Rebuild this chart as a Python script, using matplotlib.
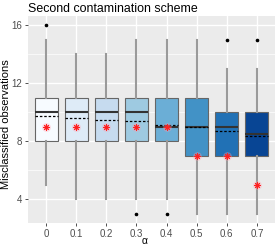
import matplotlib.pyplot as plt
import numpy as np

plt.rcParams['font.family'] = ['Liberation Sans', 'DejaVu Sans']

# values
alphas = ["0", "0.1", "0.2", "0.3", "0.4", "0.5", "0.6", "0.7"]
whislo = [5, 4, 4, 4, 4, 3, 3, 3]
q1 = [8, 8, 8, 8, 8, 7, 7, 7]
medians = [10, 10, 10, 10, 9, 9, 9, 8.5]
q3 = [11, 11, 11, 11, 11, 11, 10, 10]
whishi = [15, 14, 14, 15, 15, 15, 13, 13]
means = [9.75, 9.6, 9.45, 9.4, 9.15, 9.0, 8.7, 8.35]
outliers = [[16], [], [], [3], [3], [], [15], [15]]
reference = [9, 9, 9, 9, 9, 7, 7, 5]
colors = ["#F7FBFF", "#DEEBF7", "#C6DBEF", "#9ECAE1",
          "#6BAED6", "#4292C6", "#2171B5", "#084594"]

W, H = 278, 247
fig = plt.figure(figsize=(W / 100, H / 100), dpi=100)
ax = fig.add_axes([28 / W, 1 - 223 / H, (275 - 28) / W, (223 - 16) / H])
ax.set_facecolor("#EBEBEB")

pos = np.arange(1, len(alphas) + 1)
stats = []
for i in range(len(alphas)):
    stats.append(dict(whislo=whislo[i], q1=q1[i], med=medians[i], q3=q3[i],
                      whishi=whishi[i], fliers=outliers[i]))

bw = 0.76
bp = ax.bxp(stats, positions=pos, widths=bw, patch_artist=True, showcaps=False,
            boxprops=dict(edgecolor="#666666", linewidth=0.8),
            whiskerprops=dict(color="#9A9A9A", linewidth=1.5),
            medianprops=dict(color="#333333", linewidth=1.5),
            flierprops=dict(marker="o", markersize=1.6, markerfacecolor="black",
                            markeredgecolor="black"),
            zorder=3)
for patch, c in zip(bp["boxes"], colors):
    patch.set_facecolor(c)

# mean as dashed line
ax.hlines(means, pos - bw / 2, pos + bw / 2, colors="black", linestyles=(0, (2, 1.5)),
          linewidth=0.9, zorder=4)

# red asterisks
ax.scatter(pos, reference, s=40, color="#FF9AAA", alpha=0.35, linewidths=0, zorder=5)
ax.scatter(pos, reference, s=18, marker=(8, 2, 0), color="#FF2020", linewidths=0.7, zorder=6)

ax.set_xlim(0.4, 8.6)
ax.set_ylim(2.35, 16.65)
ax.set_xticks(pos)
ax.set_xticklabels(alphas)
ax.set_yticks([4, 8, 12, 16])
ax.set_yticks([6, 10, 14], minor=True)
ax.grid(which="major", color="white", linewidth=1.0, zorder=0)
ax.grid(which="minor", axis="y", color="white", linewidth=0.5, zorder=0)
ax.set_axisbelow(True)
for s in ax.spines.values():
    s.set_visible(False)
ax.tick_params(axis="both", which="major", colors="#333333", labelcolor="#4D4D4D",
               labelsize=7, length=2.5, width=0.6, pad=1.5)
ax.tick_params(axis="y", which="minor", length=0)

fig.text(145 / W, 1 - 241 / H, "α", fontsize=7.5, ha="center", va="center")
fig.text(6.5 / W, 1 - 124 / H, "Misclassified observations", fontsize=8,
         rotation=90, ha="center", va="center")
ax.set_title("Second contamination scheme", fontsize=8.9, loc="left", pad=3)

fig.savefig("out.png", dpi=100)
